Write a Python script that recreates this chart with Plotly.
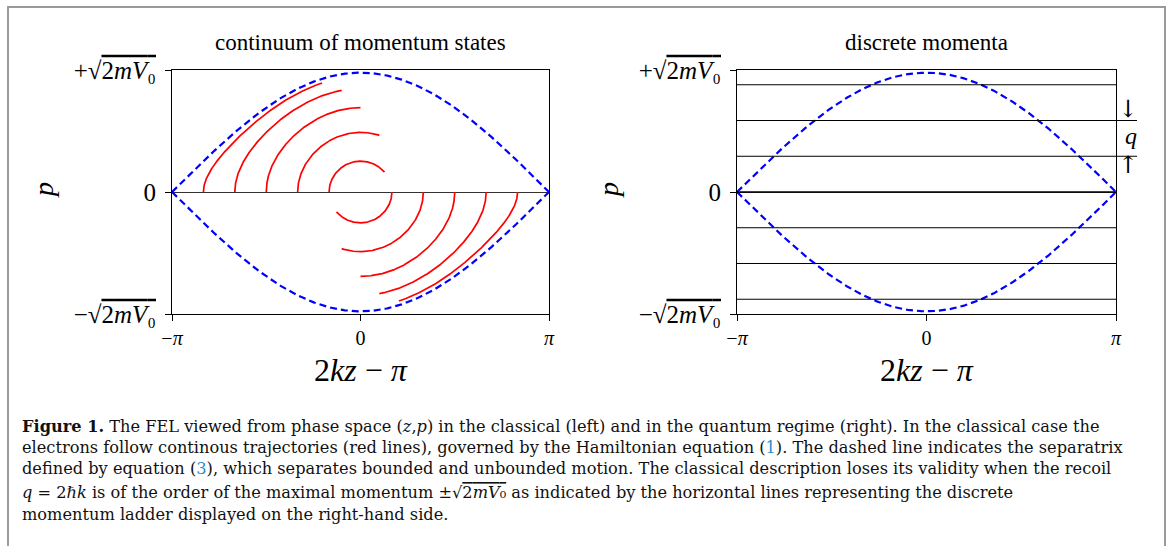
import numpy as np
import plotly.graph_objects as go

W, H = 1169, 546

# ---- data ----
x_tick_vals = [-np.pi, 0.0, np.pi]
x_tick_text = ["\u2212<i>\u03c0</i>", "0", "<i>\u03c0</i>"]
y_tick_vals = [-1.0, 0.0, 1.0]
sqrt_lbl = "\u221a<span style='text-decoration:overline'>2<i>mV</i>\u2080</span>"
y_tick_text = ["\u2212" + sqrt_lbl, "0", "+" + sqrt_lbl]

separatrix_peak = 0.978                      # height of separatrix at phase 0 (fraction of sqrt(2mV0))
turning_phase = [5/6, 4/6, 3/6, 2/6, 1/6]    # turning points of classical orbits (units of pi)
end_phase = [-0.204, -0.10, 0.0, 0.10, 0.127]  # where each drawn orbit segment stops (units of pi)
ladder_levels = [0.879, 0.586, 0.293, 0.0, -0.293, -0.586, -0.879]  # discrete momenta
q_marked = [0.586, 0.293]

titles = ["continuum of momentum states", "discrete momenta"]

# ---- layout geometry (pixels) ----
L1 = (172, 549)
L2 = (737, 1116)
TOP, BOT = 70, 314


def px(x):
    return x / W


def py(y):
    return 1 - y / H


fig = go.Figure()

# separatrix
xs = np.linspace(-np.pi, np.pi, 400)
sep = separatrix_peak * np.cos(xs / 2)
for ax in ["x", "x2"]:
    yax = "y" if ax == "x" else "y2"
    for sgn in (1, -1):
        fig.add_trace(go.Scatter(x=xs, y=sgn * sep, mode="lines", xaxis=ax, yaxis=yax,
                                 line=dict(color="#0000ff", width=2.2, dash="7px,4px"),
                                 hoverinfo="skip", showlegend=False))


def orbit(th0, the):
    # classical pendulum orbit with turning point th0
    u = np.linspace(0, 1, 600) ** 2
    th = -th0 + (the + th0) * u
    val = np.cos(th / 2) ** 2 - np.cos(th0 / 2) ** 2
    return th, separatrix_peak * np.sqrt(np.clip(val, 0, None))


for tp, ep in zip(turning_phase, end_phase):
    th, p = orbit(tp * np.pi, ep * np.pi)
    fig.add_trace(go.Scatter(x=th, y=p, mode="lines", line=dict(color="#ff0000", width=1.7),
                             hoverinfo="skip", showlegend=False))
    fig.add_trace(go.Scatter(x=-th, y=-p, mode="lines", line=dict(color="#ff0000", width=1.7),
                             hoverinfo="skip", showlegend=False))

# ladder lines
for lv in ladder_levels:
    fig.add_trace(go.Scatter(x=[-np.pi, np.pi], y=[lv, lv], mode="lines", xaxis="x2", yaxis="y2",
                             line=dict(color="#000000", width=1.0 if lv != 0 else 1.4),
                             hoverinfo="skip", showlegend=False))

serif = "Liberation Serif"
axis_common = dict(range=[-np.pi, np.pi], tickmode="array", tickvals=x_tick_vals, ticktext=x_tick_text,
                   ticks="outside", ticklen=6, tickcolor="#000", showline=True, mirror=True,
                   linecolor="#000", linewidth=1, showgrid=False, zeroline=False, automargin=False,
                   tickfont=dict(family=serif, size=20, color="#000"))
yaxis_common = dict(range=[-1, 1], tickmode="array", tickvals=y_tick_vals, ticktext=y_tick_text,
                    ticks="outside", ticklen=6, tickcolor="#000", showline=True, mirror=True,
                    linecolor="#000", linewidth=1, showgrid=False, zeroline=True, automargin=False,
                    zerolinecolor="#333", zerolinewidth=1.2, ticklabelstandoff=4,
                    tickfont=dict(family=serif, size=25, color="#000"))

fig.update_layout(
    template="none",
    width=W, height=H, margin=dict(l=0, r=0, t=0, b=0, pad=0), autosize=False,
    paper_bgcolor="white", plot_bgcolor="white", showlegend=False,
    xaxis=dict(domain=[px(L1[0]), px(L1[1])], anchor="y", **axis_common),
    yaxis=dict(domain=[py(BOT), py(TOP)], anchor="x", **yaxis_common),
    xaxis2=dict(domain=[px(L2[0]), px(L2[1])], anchor="y2", **axis_common),
    yaxis2=dict(domain=[py(BOT), py(TOP)], anchor="x2", **yaxis_common),
)

ann = []
for (l, r), t in zip([L1, L2], titles):
    cx = (l + r) / 2
    ann.append(dict(x=px(cx), y=py(43), xref="paper", yref="paper", text=t, showarrow=False,
                    font=dict(family=serif, size=23, color="#000"), xanchor="center", yanchor="middle"))
    ann.append(dict(x=px(cx), y=py(370), xref="paper", yref="paper",
                    text="2<i>kz</i> \u2212 <i>\u03c0</i>", showarrow=False,
                    font=dict(family=serif, size=32, color="#000"), xanchor="center", yanchor="middle"))
    ann.append(dict(x=px(l - 129), y=py(190), xref="paper", yref="paper", text="<i>p</i>",
                    showarrow=False, textangle=-90,
                    font=dict(family=serif, size=28, color="#000"), xanchor="center", yanchor="middle"))

# q marker
ann.append(dict(x=px(1128), y=py(109), xref="paper", yref="paper", text="\u2193", showarrow=False,
                font=dict(family="DejaVu Serif", size=24, color="#000"), xanchor="center", yanchor="middle"))
ann.append(dict(x=px(1128), y=py(165), xref="paper", yref="paper", text="\u2191", showarrow=False,
                font=dict(family="DejaVu Serif", size=24, color="#000"), xanchor="center", yanchor="middle"))
ann.append(dict(x=px(1131), y=py(136), xref="paper", yref="paper", text="<i>q</i>", showarrow=False,
                font=dict(family=serif, size=24, color="#000"), xanchor="center", yanchor="middle"))

shapes = []
for lv in q_marked:
    shapes.append(dict(type="line", xref="x2 domain", yref="y2", x0=1.0, x1=(1137 - L2[0]) / (L2[1] - L2[0]),
                       y0=lv, y1=lv, line=dict(color="#000", width=1.0)))
# figure frame
shapes.append(dict(type="rect", xref="paper", yref="paper", x0=px(8), x1=px(1165), y0=py(560), y1=py(7),
                   line=dict(color="#9a9a9a", width=2), layer="below"))

# caption
cap_font = dict(family="DejaVu Serif", size=16.2, color="#111")
link = "<span style='color:#2a8ccb'>"
cap_lines = [
    "<b>Figure 1.</b> The FEL viewed from phase space (<i>z</i>,<i>p</i>) in the classical (left) and in the quantum regime (right). In the classical case the",
    "electrons follow continous trajectories (red lines), governed by the Hamiltonian equation (" + link + "1</span>). The dashed line indicates the separatrix",
    "defined by equation (" + link + "3</span>), which separates bounded and unbounded motion. The classical description loses its validity when the recoil",
    "<i>q</i> = 2\u210f<i>k</i> is of the order of the maximal momentum \u00b1" + sqrt_lbl + " as indicated by the horizontal lines representing the discrete",
    "momentum ladder displayed on the right-hand side.",
]
cap_y = [426, 447, 469, 492, 514]
for t, y in zip(cap_lines, cap_y):
    ann.append(dict(x=px(20), y=py(y), xref="paper", yref="paper", text=t, showarrow=False,
                    font=cap_font, xanchor="left", yanchor="middle"))

fig.update_layout(annotations=ann, shapes=shapes)
fig.write_html("out.html", config={"displayModeBar": False, "responsive": False},
               post_script="document.body.style.margin='0px';document.body.style.overflow='hidden';")
